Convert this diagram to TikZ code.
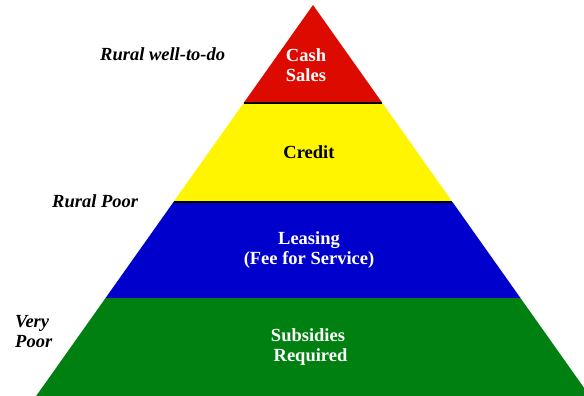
\documentclass[tikz,border=0pt]{standalone}
\usepackage{fontspec}
\setmainfont{Liberation Serif}
\definecolor{bandred}{RGB}{221,10,0}
\definecolor{bandyellow}{RGB}{255,245,0}
\definecolor{bandblue}{RGB}{0,0,204}
\definecolor{bandgreen}{RGB}{0,128,16}
\begin{document}
\begin{tikzpicture}[x=1pt,y=-1pt,
  bandtext/.style={font=\fontsize{18.5}{20}\selectfont\bfseries, align=center, inner sep=0pt},
  sidelabel/.style={font=\fontsize{18.5}{20}\selectfont\bfseries\itshape, align=left, inner sep=0pt, text=black},
  divider/.style={line width=1.7pt, black}]
\useasboundingbox (0,0) rectangle (584,396);
\def\ax{313}
\def\s{0.708}
\coordinate (apex) at (\ax,5);
\coordinate (l1) at ({\ax-\s*98},103);  \coordinate (r1) at ({\ax+\s*98},103);
\coordinate (l2) at ({\ax-\s*197},202); \coordinate (r2) at ({\ax+\s*197},202);
\coordinate (l3) at ({\ax-\s*293},298); \coordinate (r3) at ({\ax+\s*293},298);
\coordinate (l4) at ({\ax-\s*391},396); \coordinate (r4) at ({\ax+\s*391},396);
\fill[bandred] (apex) -- (r1) -- (l1) -- cycle;
\fill[bandyellow] (l1) -- (r1) -- (r2) -- (l2) -- cycle;
\fill[bandblue] (l2) -- (r2) -- (r3) -- (l3) -- cycle;
\fill[bandgreen] (l3) -- (r3) -- (r4) -- (l4) -- cycle;
\draw[divider] (l1) -- (r1);
\draw[divider] (l2) -- (r2);
% band texts
\node[bandtext, text=white] (cash) at (306,65) {Cash\\Sales};
\node[bandtext, text=black] (credit) at (309,152) {Credit};
\node[bandtext, text=white] (leasing) at (309,250) {Leasing\\(Fee for Service)};
\node[bandtext, text=white] (subsidies) at (308,347) {Subsidies\\\hspace*{5pt}Required};
% side labels
\node[sidelabel, anchor=base west] (wealthy) at (100,61) {Rural well-to-do};
\node[sidelabel, anchor=base west] (poor) at (52,207) {Rural Poor};
\node[sidelabel, anchor=west] (verypoor) at (15,332) {Very\\Poor};
\end{tikzpicture}
\end{document}
